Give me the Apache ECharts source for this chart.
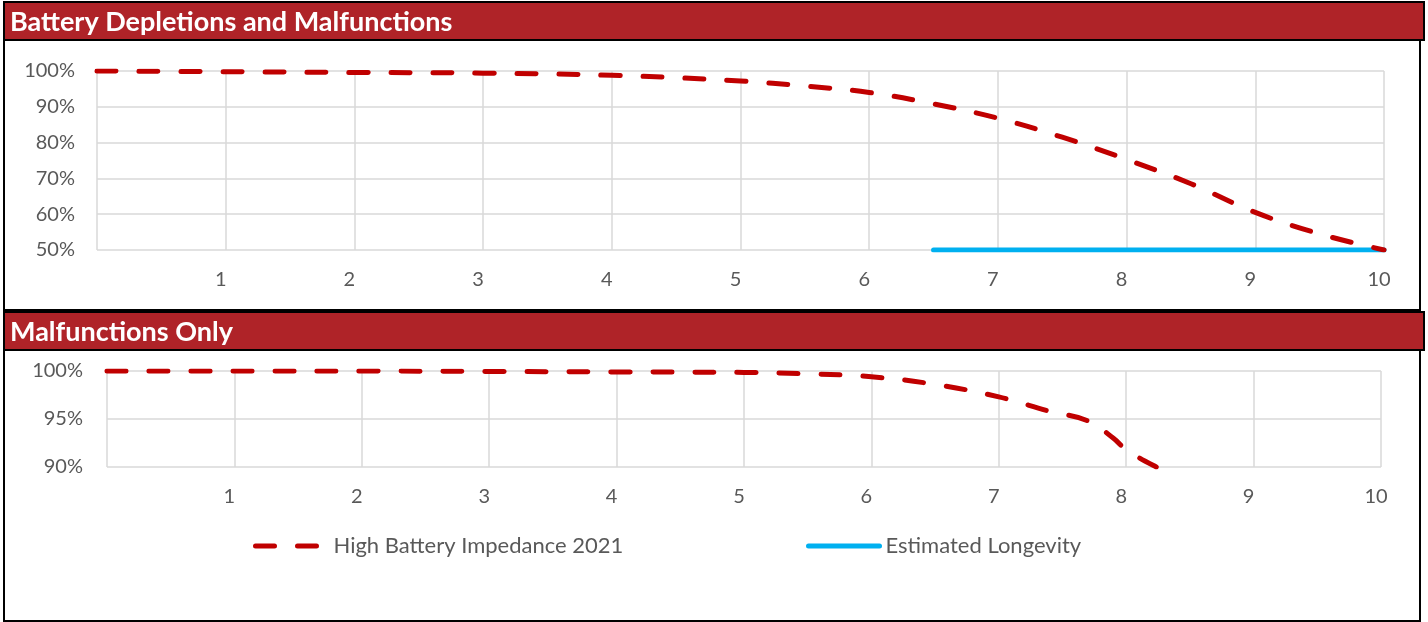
<!DOCTYPE html>
<html>
<head>
<meta charset="utf-8">
<script src="https://cdn.jsdelivr.net/npm/echarts@6/dist/echarts.min.js"></script>
<style>
html,body{margin:0;padding:0;background:#fff;}
#chart{width:1428px;height:622px;}
</style>
</head>
<body>
<div id="chart"></div>
<script>
// ---- data ----
var titleTop = 'Battery Depletions and Malfunctions';
var titleBottom = 'Malfunctions Only';
var seriesRedName = 'High Battery Impedance 2021';
var seriesBlueName = 'Estimated Longevity';

var xTicks = [1, 2, 3, 4, 5, 6, 7, 8, 9, 10];

var topYears = [0, 1, 2, 3, 4, 5, 5.5, 6, 6.5, 7, 7.5, 8, 8.5, 9, 9.5, 10];
var topSurvival = [100, 99.8, 99.6, 99.4, 98.8, 97.2, 95.8, 94, 90.8, 86.8, 81.5, 75.3, 68.5, 60.5, 54.5, 50];

var longevityYears = [6.5, 10];
var longevityValues = [50, 50];

var botYears = [0, 1, 2, 3, 4, 5, 5.5, 6, 6.5, 7, 7.4, 7.7, 7.9, 8.0, 8.25, 8.5];
var botSurvival = [100, 100, 100, 99.95, 99.9, 99.85, 99.7, 99.4, 98.6, 97.3, 95.8, 94.8, 93.0, 91.8, 89.9, 88.3];

function pairs(xs, ys) { return xs.map(function (x, i) { return [x, ys[i]]; }); }

var RED = '#C00000';
var BLUE = '#00B0F0';
var HEADER = '#AF2328';
var GRID = '#D9D9D9';
var TXT = '#595959';
var FONT = 'Lato, "Open Sans", sans-serif';

var chart = echarts.init(document.getElementById('chart'), null, {renderer: 'canvas'});

function xAxis(gi) {
  return {
    type: 'value', gridIndex: gi, min: 0, max: 10, interval: 1,
    axisLine: {show: false}, axisTick: {show: false},
    splitLine: {show: true, lineStyle: {color: GRID, width: 1.5}},
    axisLabel: {
      color: TXT, fontFamily: FONT, fontSize: 20, margin: 20,
      padding: [0, 10, 0, 0],
      formatter: function (v) { return xTicks.indexOf(v) >= 0 ? String(v) : ''; }
    }
  };
}
function yAxis(gi, min, interval, margin) {
  return {
    type: 'value', gridIndex: gi, min: min, max: 100, interval: interval,
    axisLine: {show: false}, axisTick: {show: false},
    splitLine: {show: true, lineStyle: {color: GRID, width: 1.5}},
    axisLabel: {color: TXT, fontFamily: FONT, fontSize: 20, margin: margin,
      formatter: function (v) { return v + '%'; }}
  };
}

var dashStyle = {color: RED, width: 5, type: [19, 23], cap: 'round', join: 'round'};

var legendCommon = {
  top: 530, itemHeight: 14,
  itemStyle: {opacity: 0},
  textStyle: {color: TXT, fontFamily: FONT, fontSize: 22, padding: [0, 0, 0, 7]}
};

var option = {
  animation: false,
  backgroundColor: '#fff',
  grid: [
    {left: 97, right: 44, top: 71, height: 179},
    {left: 107, right: 47, top: 371, height: 96}
  ],
  xAxis: [xAxis(0), xAxis(1)],
  yAxis: [yAxis(0, 50, 10, 22), yAxis(1, 90, 5, 24)],
  legend: [
    Object.assign({}, legendCommon, {
      data: [seriesRedName], left: 248, itemWidth: 66,
      lineStyle: {width: 5, type: [19, 23], cap: 'round', color: RED}
    }),
    Object.assign({}, legendCommon, {
      data: [seriesBlueName], left: 801, itemWidth: 71,
      lineStyle: {width: 5, cap: 'round', color: BLUE},
      textStyle: {color: TXT, fontFamily: FONT, fontSize: 22, padding: [0, 0, 0, 1]}
    })
  ],
  series: [
    {
      name: seriesRedName, type: 'line', xAxisIndex: 0, yAxisIndex: 0,
      data: pairs(topYears, topSurvival), smooth: 0.4, symbol: 'none',
      lineStyle: dashStyle, itemStyle: {color: RED}, z: 3
    },
    {
      name: seriesBlueName, type: 'line', xAxisIndex: 0, yAxisIndex: 0,
      data: pairs(longevityYears, longevityValues), symbol: 'none',
      lineStyle: {color: BLUE, width: 5, cap: 'round'}, itemStyle: {color: BLUE}, z: 2
    },
    {
      name: seriesRedName, type: 'line', xAxisIndex: 1, yAxisIndex: 1,
      data: pairs(botYears, botSurvival), smooth: 0.4, symbol: 'none',
      lineStyle: dashStyle, itemStyle: {color: RED}, z: 3
    }
  ],
  graphic: [
    {type: 'rect', shape: {x: 4, y: 2, width: 1416, height: 308}, style: {fill: 'none', stroke: '#000', lineWidth: 2}, z: 10, silent: true},
    {type: 'rect', shape: {x: 4, y: 312, width: 1416, height: 309}, style: {fill: 'none', stroke: '#000', lineWidth: 2}, z: 10, silent: true},
    {type: 'rect', shape: {x: 4, y: 2, width: 1420, height: 38}, style: {fill: HEADER, stroke: '#000', lineWidth: 2}, z: 11, silent: true},
    {type: 'rect', shape: {x: 4, y: 312, width: 1420, height: 38}, style: {fill: HEADER, stroke: '#000', lineWidth: 2}, z: 11, silent: true},
    {type: 'text', x: 10, y: 22, z: 12, silent: true,
      style: {text: titleTop, fill: '#fff', font: 'bold 27px ' + FONT, textVerticalAlign: 'middle', verticalAlign: 'middle'}},
    {type: 'text', x: 10, y: 332, z: 12, silent: true,
      style: {text: titleBottom, fill: '#fff', font: 'bold 27px ' + FONT, textVerticalAlign: 'middle', verticalAlign: 'middle'}}
  ]
};
chart.setOption(option);
</script>
</body>
</html>
